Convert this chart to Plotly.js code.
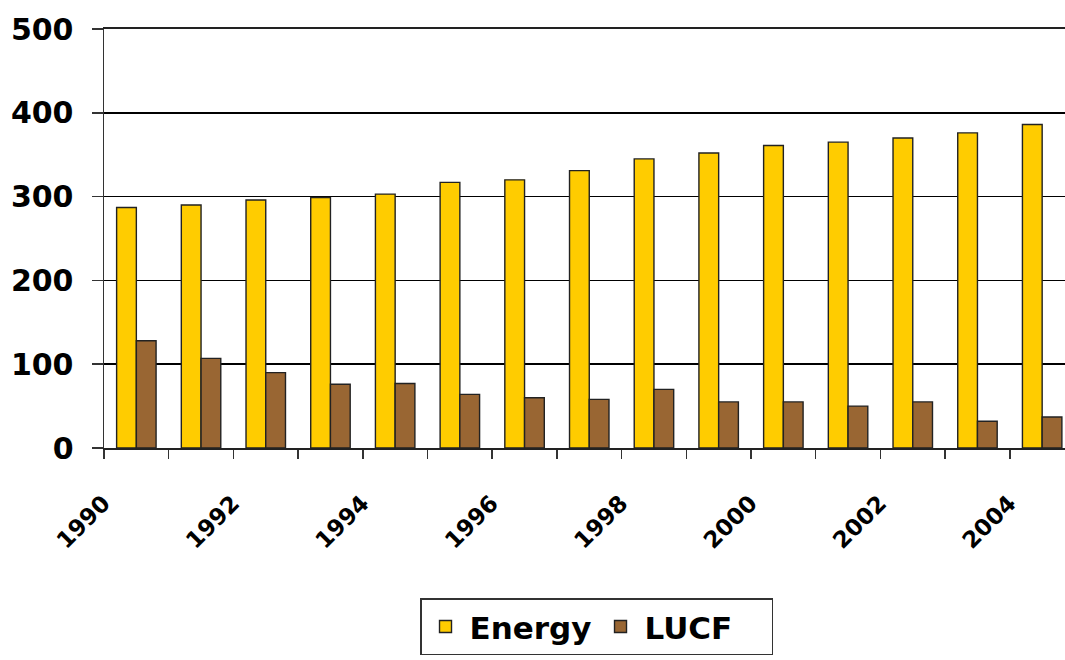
<!DOCTYPE html>
<html>
<head>
<meta charset="utf-8">
<script src="https://cdn.plot.ly/plotly-3.0.1.min.js"></script>
<style>html,body{margin:0;padding:0;background:#fff;overflow:hidden}</style>
</head>
<body>
<div id="chart" style="width:1065px;height:660px"></div>
<script>
// ---- data ----
const years = ['1990','1991','1992','1993','1994','1995','1996','1997','1998','1999','2000','2001','2002','2003','2004'];
const yearTickLabels = ['1990','','1992','','1994','','1996','','1998','','2000','','2002','','2004'];
const seriesNames = ['Energy', 'LUCF'];
const energy = [287, 290, 296, 299, 303, 317, 320, 331, 345, 352, 361, 365, 370, 376, 386];
const lucf   = [128, 107,  90,  76,  77,  64,  60,  58,  70,  55,  55,  50,  55,  32,  37];
const yTickVals = [0, 100, 200, 300, 400, 500];

// ---- styles ----
const FONT = 'DejaVu Sans';
const outline = {color: '#222222', width: 1.4};

const traces = [
  {type: 'bar', name: seriesNames[0], x: years, y: energy,
   marker: {color: '#FFCC00', line: outline}, hoverinfo: 'x+y+name'},
  {type: 'bar', name: seriesNames[1], x: years, y: lucf,
   marker: {color: '#996633', line: outline}, hoverinfo: 'x+y+name'}
];

const layout = {
  width: 1065, height: 660,
  paper_bgcolor: '#ffffff', plot_bgcolor: '#ffffff',
  font: {family: FONT, color: '#000000'},
  margin: {l: 104, r: 0, t: 29, b: 212, pad: 0, autoexpand: false},
  barmode: 'group', bargap: 0.39, bargroupgap: 0,
  showlegend: true,
  legend: {
    orientation: 'h', x: 0.5125, xanchor: 'center', y: -0.359, yanchor: 'top',
    bgcolor: '#ffffff', bordercolor: '#333333', borderwidth: 1.5,
    font: {family: FONT, size: 31, weight: 'bold', color: '#000000'},
    itemwidth: 38, entrywidth: 122, traceorder: 'normal'
  },
  xaxis: {
    type: 'category', range: [-0.5, 14.353],
    tickmode: 'array', tickvals: years, ticktext: yearTickLabels,
    tickson: 'boundaries', ticks: 'outside', ticklen: 9, tickwidth: 1.5, tickcolor: '#333333',
    tickangle: -45, tickfont: {family: FONT, size: 23, weight: 'bold', color: '#000000'},
    ticklabelshift: -33, ticklabelstandoff: 31,
    showline: true, mirror: true, linecolor: '#222222', linewidth: 1.6,
    showgrid: false, zeroline: false, fixedrange: true
  },
  yaxis: {
    range: [0, 500], tickmode: 'array', tickvals: yTickVals,
    ticks: 'outside', ticklen: 11, tickwidth: 1.5, tickcolor: '#333333',
    tickfont: {family: FONT, size: 30, weight: 'bold', color: '#000000'},
    ticklabelstandoff: 12,
    showline: true, linecolor: '#333333', linewidth: 1.5,
    showgrid: true, gridcolor: '#000000', gridwidth: 1.7,
    zeroline: false, fixedrange: true
  }
};

Plotly.newPlot('chart', traces, layout, {displayModeBar: false, staticPlot: true});
</script>
</body>
</html>
